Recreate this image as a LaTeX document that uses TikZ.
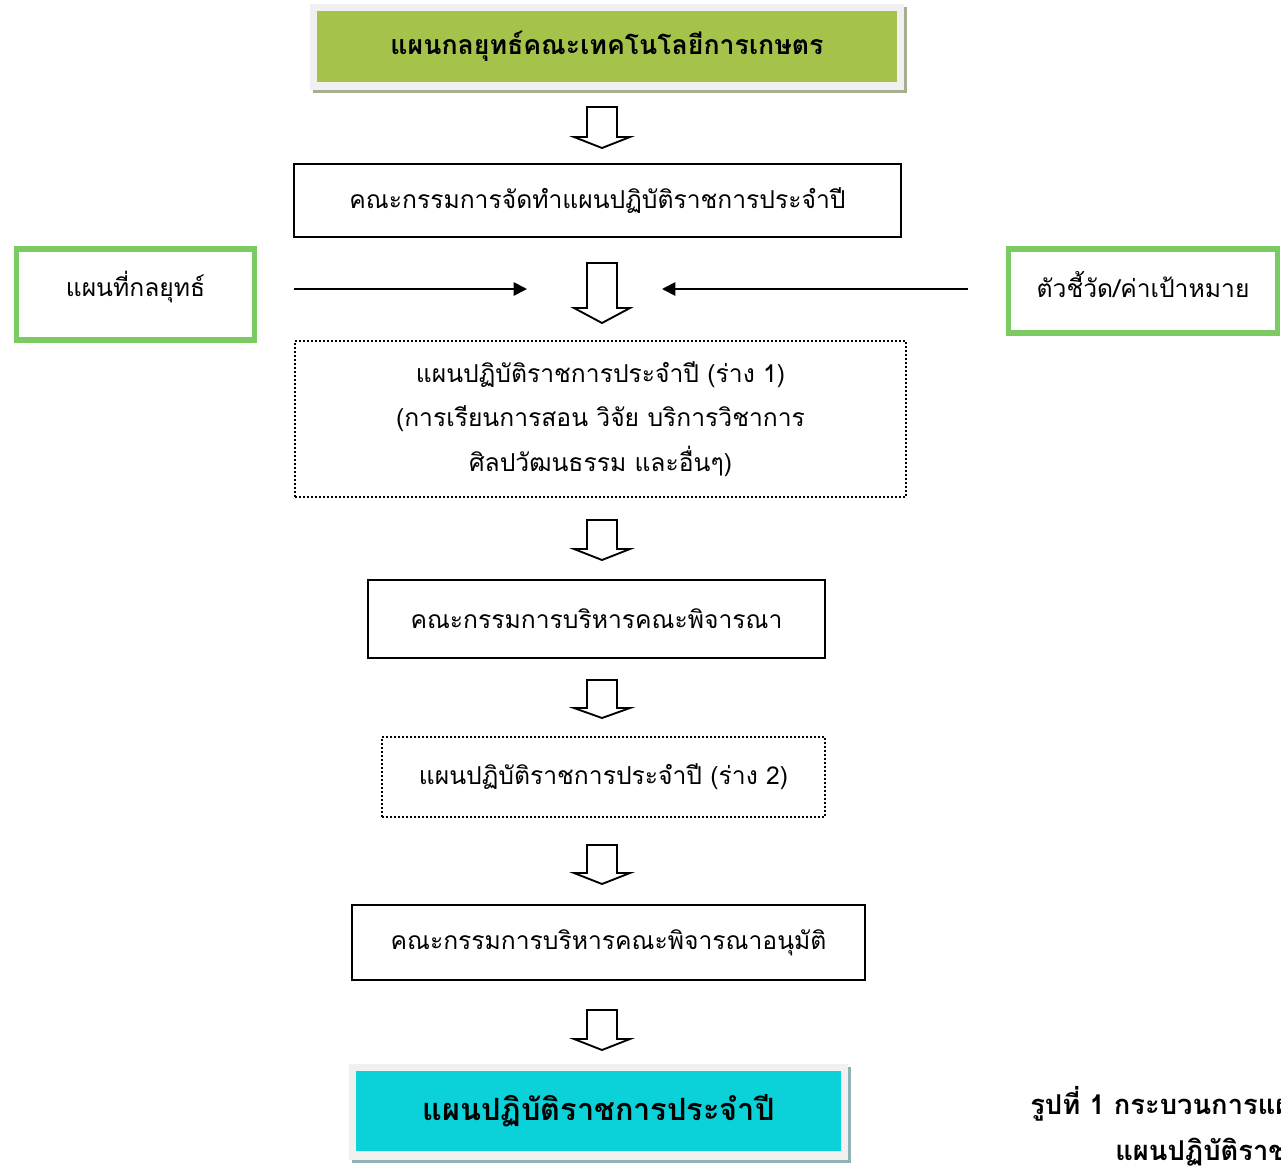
\documentclass[tikz,border=0pt]{standalone}
\usepackage{fontspec}
\setmainfont[Script=Thai]{Loma}
\usetikzlibrary{arrows.meta}
\definecolor{topgreen}{HTML}{A5C24B}
\definecolor{framegray}{HTML}{F0F0F0}
\definecolor{shadowgreen}{HTML}{A3AE93}
\definecolor{cyanfill}{HTML}{0BD1D9}
\definecolor{shadowteal}{HTML}{8FB3B5}
\definecolor{sidegreen}{HTML}{7CCB62}
\tikzset{
  px/.style 2 args={minimum width=#1*0.75pt, minimum height=#2*0.75pt},
  plainbox/.style={draw=black, line width=1.5pt, inner sep=0pt, align=center, font=\fontsize{18.5}{33.5}\selectfont},
  dotbox/.style={draw=black, line width=1.6pt, dash pattern=on 1.4pt off 1.6pt, inner sep=0pt, align=center, font=\fontsize{18.5}{33.5}\selectfont},
  sidebox/.style={draw=sidegreen, line width=3.8pt, inner sep=0pt, align=center},
  sidetext/.style={font=\fontsize{18.5}{24}\selectfont},
  hollow/.style={draw=black, line width=1.4pt, fill=white, line join=miter},
  feed/.style={draw=black, line width=1.4pt, -{Triangle[length=10pt,width=10pt]}},
  captext/.style={anchor=west, font=\bfseries\fontsize{20.5}{24}\selectfont, inner sep=0pt},
}
% hollow down arrow: center x, top y, head base y, tip y
\newcommand\hollowdown[4]{%
  \path[hollow] (#1-15,#2) -- (#1+15,#2) -- (#1+15,#3) -- (#1+28,#3) -- (#1,#4) -- (#1-28,#3) -- (#1-15,#3) -- cycle;}
\begin{document}
\begin{tikzpicture}[x=0.75pt,y=-0.75pt]
\useasboundingbox (0,0) rectangle (1281,1168);
\begin{scope}
\clip (0,0) rectangle (1281,1168);
% top box
\fill[shadowgreen] (313,7) rectangle (907,93);
\fill[framegray] (310,4) rectangle (904,90);
\node[fill=topgreen, px={580}{71}, inner sep=0pt, font=\bfseries\fontsize{20}{24}\selectfont] (top) at (607,46.5) {แผนกลยุทธ์คณะเทคโนโลยีการเกษตร};

\hollowdown{602}{107}{137}{148}

\node[plainbox, px={607}{73}] (comm) at (597.5,200.5) {คณะกรรมการจัดทำแผนปฏิบัติราชการประจำปี};

% side boxes
\node[sidebox, px={238}{91}] (map) at (135.5,294.5) {};
\node[sidetext] (maptext) at (135.5,287) {แผนที่กลยุทธ์};
\node[sidebox, px={269}{84}] (kpi) at (1143,291) {};
\node[sidetext] (kpitext) at (1143,284) {ตัวชี้วัด/ค่าเป้าหมาย};

\coordinate (lstart) at (294,289);
\coordinate (lend) at (527,289);
\coordinate (rstart) at (968,289);
\coordinate (rend) at (662,289);
\draw[feed] (lstart) -- (lend);
\draw[feed] (rstart) -- (rend);

\hollowdown{602}{263}{308}{323}

\node[dotbox, px={611}{156}] (draft1) at (600.5,419) {แผนปฏิบัติราชการประจำปี (ร่าง 1)\\(การเรียนการสอน วิจัย บริการวิชาการ\\ศิลปวัฒนธรรม และอื่นๆ)};

\hollowdown{602}{520}{549}{560}

\node[plainbox, px={457}{78}] (exec) at (596.5,619) {คณะกรรมการบริหารคณะพิจารณา};

\hollowdown{602}{680}{708}{718}

\node[dotbox, px={443}{80}] (draft2) at (603.5,777) {แผนปฏิบัติราชการประจำปี (ร่าง 2)};

\hollowdown{602}{845}{873}{884}

\node[plainbox, px={513}{75}] (approve) at (608.5,942.5) {คณะกรรมการบริหารคณะพิจารณาอนุมัติ};

\hollowdown{602}{1010}{1039}{1050}

% bottom box
\fill[shadowteal] (352,1067) rectangle (851,1163);
\fill[framegray] (349,1064) rectangle (848,1160);
\node[fill=cyanfill, px={485}{80}, inner sep=0pt, font=\bfseries\fontsize{23}{28}\selectfont] (plan) at (598.5,1111) {แผนปฏิบัติราชการประจำปี};

% caption (cut at the right edge, as in the reference)
\node[captext] (cap1) at (1030,1104) {รูปที่ 1 กระบวนการแผน};
\node[captext] (cap2) at (1115,1152) {แผนปฏิบัติราชการ};
\end{scope}
\end{tikzpicture}
\end{document}
